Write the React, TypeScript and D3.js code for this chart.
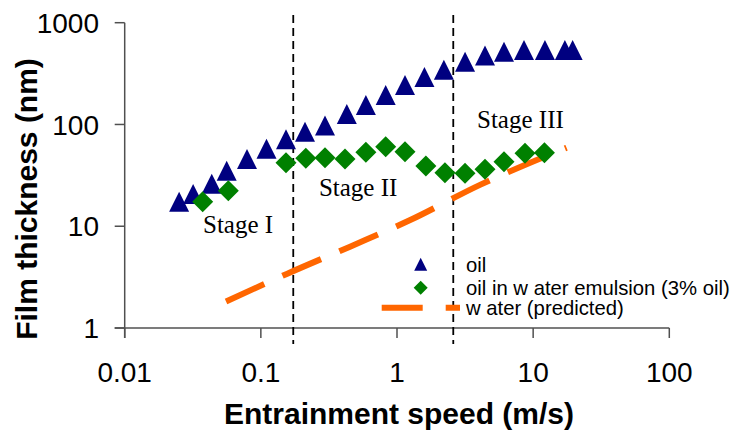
import React from "react";
import * as d3 from "d3";

const W = 734;
const H = 436;

const oilSpeed = [0.0251, 0.0318, 0.0436, 0.0561, 0.0791, 0.110, 0.153, 0.211, 0.296, 0.428, 0.591, 0.826, 1.145, 1.59, 2.21, 3.16, 4.43, 6.11, 8.57, 12.2, 17.1, 19.5];
const oilFilm = [17.4, 20.7, 26.2, 35.1, 45.8, 57.7, 71.5, 84.9, 97.7, 127, 155, 195, 244, 293, 345, 414, 476, 519, 539, 539, 539, 539];

const emulsionSpeed = [0.0374, 0.0577, 0.153, 0.214, 0.296, 0.415, 0.591, 0.826, 1.145, 1.63, 2.25, 3.16, 4.43, 6.11, 8.71, 12.1];
const emulsionFilm = [17.4, 22.3, 42.1, 46.5, 47.1, 45.8, 53.3, 60.5, 54.0, 39.1, 33.6, 33.1, 36.3, 43.1, 52.1, 52.8];

const waterSpeed = [0.0555, 0.155, 0.452, 1.25, 4.07, 17.6];
const waterFilm = [1.82, 3.40, 6.30, 11.5, 25.5, 59.1];

const stageBounds = [0.173, 2.59];
const stageLabels = ["Stage I", "Stage II", "Stage III"];
const stageLabelPos = [[0.0376, 8.57], [0.267, 19.8], [3.87, 92.3]];

const xTicks = [0.01, 0.1, 1, 10, 100];
const xTickLabels = ["0.01", "0.1", "1", "10", "100"];
const yTicks = [1, 10, 100, 1000];
const yTickLabels = ["1", "10", "100", "1000"];

const legendLabels = ["oil", "oil in w ater emulsion (3% oil)", "w ater (predicted)"];

const NAVY = "#000080";
const GREEN = "#008000";
const ORANGE = "#FF6600";

export default function App() {
  const x = d3.scaleLog().domain([0.01, 100]).range([124.7, 669.3]);
  const y = d3.scaleLog().domain([1, 1000]).range([328, 22.7]);

  const tri = (cx: number, cy: number, s: number) =>
    `M${cx},${cy - s / 2}L${cx + s / 2},${cy + s / 2}L${cx - s / 2},${cy + s / 2}Z`;
  const dia = (cx: number, cy: number, s: number) =>
    `M${cx},${cy - s / 2}L${cx + s / 2},${cy}L${cx},${cy + s / 2}L${cx - s / 2},${cy}Z`;

  const waterLine = d3
    .line<number>()
    .x((_, i) => x(waterSpeed[i]))
    .y((d) => y(d))
    .curve(d3.curveMonotoneX)(waterFilm) as string;

  const axisColor = "#505050";
  const x0 = x(0.01);
  const x1 = x(100);
  const y0 = y(1);
  const y1 = y(1000);

  return (
    <svg
      width={W}
      height={H}
      style={{ position: "absolute", left: 0, top: 0, background: "#fff" }}
    >
      {/* axes */}
      <line x1={x0} y1={y1} x2={x0} y2={y0 + 10} stroke={axisColor} strokeWidth={1.5} />
      <line x1={x0 - 10} y1={y0} x2={x1} y2={y0} stroke={axisColor} strokeWidth={1.5} />
      {yTicks.map((t, i) => (
        <g key={"yt" + i}>
          <line x1={x0 - 10} x2={x0} y1={y(t)} y2={y(t)} stroke={axisColor} strokeWidth={1.5} />
          <text
            x={99}
            y={y(t)}
            dy="0.36em"
            textAnchor="end"
            fontFamily="Liberation Sans, Arial, sans-serif"
            fontSize={28}
            fill="#000"
          >
            {yTickLabels[i]}
          </text>
        </g>
      ))}
      {xTicks.map((t, i) => (
        <g key={"xt" + i}>
          <line x1={x(t)} x2={x(t)} y1={y0} y2={y0 + 10} stroke={axisColor} strokeWidth={1.5} />
          <text
            x={x(t)}
            y={382}
            textAnchor="middle"
            fontFamily="Liberation Sans, Arial, sans-serif"
            fontSize={28}
            fill="#000"
          >
            {xTickLabels[i]}
          </text>
        </g>
      ))}

      {/* axis titles */}
      <text
        x={399}
        y={424}
        textAnchor="middle"
        fontFamily="Liberation Sans, Arial, sans-serif"
        fontWeight="bold"
        fontSize={30}
        fill="#000"
      >
        Entrainment speed (m/s)
      </text>
      <text
        transform={`translate(37,${199}) rotate(-90)`}
        textAnchor="middle"
        fontFamily="Liberation Sans, Arial, sans-serif"
        fontWeight="bold"
        fontSize={30}
        fill="#000"
      >
        Film thickness (nm)
      </text>

      {/* stage boundaries */}
      {stageBounds.map((b, i) => (
        <line
          key={"sb" + i}
          x1={x(b)}
          x2={x(b)}
          y1={15}
          y2={344}
          stroke="#000"
          strokeWidth={1.8}
          strokeDasharray="8 5"
        />
      ))}

      {/* water predicted */}
      <path d={waterLine} fill="none" stroke={ORANGE} strokeWidth={6} strokeDasharray="42 20" />

      {/* oil */}
      {oilFilm.map((v, i) => (
        <path key={"o" + i} d={tri(x(oilSpeed[i]), y(v), 20)} fill={NAVY} />
      ))}

      {/* emulsion */}
      {emulsionFilm.map((v, i) => (
        <path key={"e" + i} d={dia(x(emulsionSpeed[i]), y(v), 21)} fill={GREEN} />
      ))}

      {/* stage labels */}
      {stageLabels.map((s, i) => (
        <text
          key={"sl" + i}
          x={x(stageLabelPos[i][0])}
          y={y(stageLabelPos[i][1])}
          fontFamily="Liberation Serif, Times New Roman, serif"
          fontSize={25}
          fill="#000"
        >
          {s}
        </text>
      ))}

      {/* legend */}
      <path d={tri(420.7, 264.3, 13)} fill={NAVY} />
      <path d={dia(420.7, 287.7, 14)} fill={GREEN} />
      <line x1={381.7} x2={460} y1={307.7} y2={307.7} stroke={ORANGE} strokeWidth={6} strokeDasharray="41 23" />
      {legendLabels.map((l, i) => (
        <text
          key={"lg" + i}
          x={466}
          y={[264.3, 287.7, 307.7][i]}
          dy="0.36em"
          fontFamily="Liberation Sans, Arial, sans-serif"
          fontSize={20.3}
          fill="#000"
        >
          {l}
        </text>
      ))}
    </svg>
  );
}
